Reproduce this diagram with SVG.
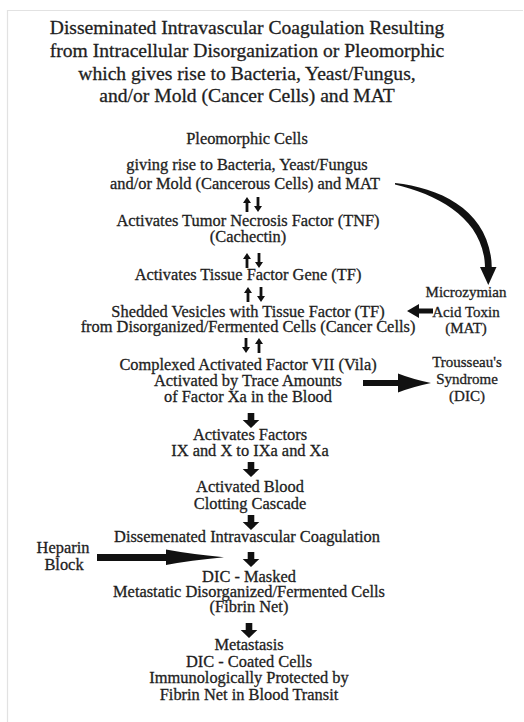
<svg xmlns="http://www.w3.org/2000/svg" width="524" height="722" viewBox="0 0 524 722">
<style>
text{font-family:"Liberation Serif","Times New Roman",serif;fill:#1e1e1e;text-anchor:middle;stroke:#1e1e1e;stroke-width:0.3}
.title{font-size:19.6px;stroke-width:0.45}
.body{font-size:16.4px}
.side{font-size:15px}
.arr{fill:#111}
.frame{stroke:#e2e2e2;stroke-width:1.2;fill:none}
</style>
<defs>
<polygon id="up" points="0,0 4,6 1.4,6 1.4,15 -1.4,15 -1.4,6 -4,6"/>
<polygon id="dn" points="0,15 4,9 1.4,9 1.4,0 -1.4,0 -1.4,9 -4,9"/>
<polygon id="bigdn" points="-3.3,0 3.3,0 3.3,7 8.3,7 0,15 -8.3,7 -3.3,7"/>
</defs>
<rect width="524" height="722" fill="#fff"/>
<path class="frame" d="M7.5,722 V10.5 H523"/>

<g id="title" class="title">
<text x="247" y="34">Disseminated Intravascular Coagulation Resulting</text>
<text x="247" y="57">from Intracellular Disorganization or Pleomorphic</text>
<text x="247" y="80">which gives rise to Bacteria, Yeast/Fungus,</text>
<text x="247" y="102">and/or Mold (Cancer Cells) and MAT</text>
</g>

<g id="pleomorphic" class="body">
<text x="247" y="144">Pleomorphic Cells</text>
<text x="247" y="170">giving rise to Bacteria, Yeast/Fungus</text>
<text x="245" y="189">and/or Mold (Cancerous Cells) and MAT</text>
</g>
<g id="tnf" class="body">
<text x="248" y="226">Activates Tumor Necrosis Factor (TNF)</text>
<text x="248" y="242">(Cachectin)</text>
</g>
<g id="tfgene" class="body">
<text x="248" y="280">Activates Tissue Factor Gene (TF)</text>
</g>
<g id="vesicles" class="body">
<text x="248" y="317">Shedded Vesicles with Tissue Factor (TF)</text>
<text x="248" y="332">from Disorganized/Fermented Cells (Cancer Cells)</text>
</g>
<g id="factor7" class="body">
<text x="248" y="370">Complexed Activated Factor VII (Vila)</text>
<text x="248" y="386">Activated by Trace Amounts</text>
<text x="248" y="402">of Factor Xa in the Blood</text>
</g>
<g id="factors9x" class="body">
<text x="250" y="440">Activates Factors</text>
<text x="250" y="456">IX and X to IXa and Xa</text>
</g>
<g id="cascade" class="body">
<text x="250" y="492">Activated Blood</text>
<text x="250" y="509">Clotting Cascade</text>
</g>
<g id="dic" class="body">
<text x="247" y="542">Dissemenated Intravascular Coagulation</text>
</g>
<g id="masked" class="body">
<text x="249" y="582">DIC - Masked</text>
<text x="249" y="597">Metastatic Disorganized/Fermented Cells</text>
<text x="249" y="612">(Fibrin Net)</text>
</g>
<g id="metastasis" class="body">
<text x="249" y="650">Metastasis</text>
<text x="249" y="667">DIC - Coated Cells</text>
<text x="249" y="683">Immunologically Protected by</text>
<text x="249" y="700">Fibrin Net in Blood Transit</text>
</g>
<g id="mat" class="side">
<text x="466" y="297">Microzymian</text>
<text x="466" y="317">Acid Toxin</text>
<text x="466" y="333">(MAT)</text>
</g>
<g id="trousseau" class="side">
<text x="467" y="367">Trousseau's</text>
<text x="467" y="384">Syndrome</text>
<text x="467" y="401">(DIC)</text>
</g>
<g id="heparin" class="body">
<text x="63" y="553">Heparin</text>
<text x="64" y="570">Block</text>
</g>

<g id="connectors" class="arr">
<use href="#up" x="247" y="197"/><use href="#dn" x="258" y="197"/>
<use href="#up" x="247" y="253"/><use href="#dn" x="259" y="253"/>
<use href="#up" x="248" y="287"/><use href="#dn" x="261" y="287"/>
<use href="#dn" x="246" y="338"/><use href="#up" x="259" y="338"/>
<use href="#bigdn" x="251" y="413"/>
<use href="#bigdn" x="251" y="462"/>
<use href="#bigdn" x="251" y="515"/>
<use href="#bigdn" x="251" y="552"/>
<use href="#bigdn" x="249" y="623"/>
<path d="M395,183 C442,188 491,212 491.8,268 L485,268 C484.5,220 440,195 395,184.6 Z"/>
<polygon points="480,267 496.5,267 488.3,285"/>
<polygon points="407,311 419,304 419,308.5 433,308.5 433,313.5 419,313.5 419,318"/>
<path d="M363,380 L398,380 L398,373.5 Q412,379 431,383 Q412,387 398,392.5 L398,386 L363,386 Z"/>
<path d="M97,554 L166,554 L166,549.5 Q190,554 224,557.3 Q190,560.5 166,565 L166,561 L97,561 Z"/>
</g>
</svg>
